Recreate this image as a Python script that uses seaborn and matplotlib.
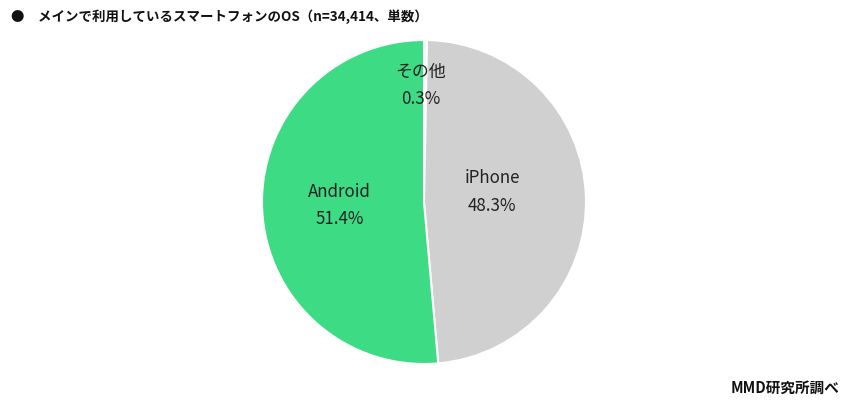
import matplotlib
matplotlib.use("Agg")
import matplotlib.pyplot as plt
import seaborn as sns

sns.set_theme(style="white")
plt.rcParams["font.family"] = ["Noto Sans CJK JP", "DejaVu Sans"]

labels = ["その他", "iPhone", "Android"]
shares = [0.3, 48.3, 51.4]
colors = ["#f2f2f2", "#d0d0d0", "#3ddb84"]
# label anchor positions in axes fraction (layout only)
label_pos = [(0.49, 0.859), (0.71, 0.531), (0.239, 0.489)]

fig = plt.figure(figsize=(8.49, 4.05), dpi=100)
cx, cy, r = 424, 202, 162
ax = fig.add_axes([(cx - r) / 849, (405 - cy - r) / 405, 2 * r / 849, 2 * r / 405])

ax.pie(
    shares,
    colors=colors,
    startangle=90,
    counterclock=False,
    wedgeprops={"edgecolor": "white", "linewidth": 1.5},
)
ax.set_xlim(-1, 1)
ax.set_ylim(-1, 1)
ax.set_aspect("equal")
ax.axis("off")

for name, val, (x, y) in zip(labels, shares, label_pos):
    ax.text(
        x, y, f"{name}\n{val:.1f}%",
        transform=ax.transAxes,
        ha="center", va="center",
        fontsize=12.2, linespacing=1.65,
        color="#222222",
    )

fig.text(
    11 / 849, 1 - 17 / 405,
    "●　メインで利用しているスマートフォンのOS（n=34,414、単数）",
    ha="left", va="center", fontsize=9.7, fontweight="bold", color="#111111",
)
fig.text(
    840 / 849, 1 - 388 / 405,
    "MMD研究所調べ",
    ha="right", va="center", fontsize=10.5, fontweight="bold", color="#111111",
)

fig.savefig("out.png", dpi=100, facecolor="white")
